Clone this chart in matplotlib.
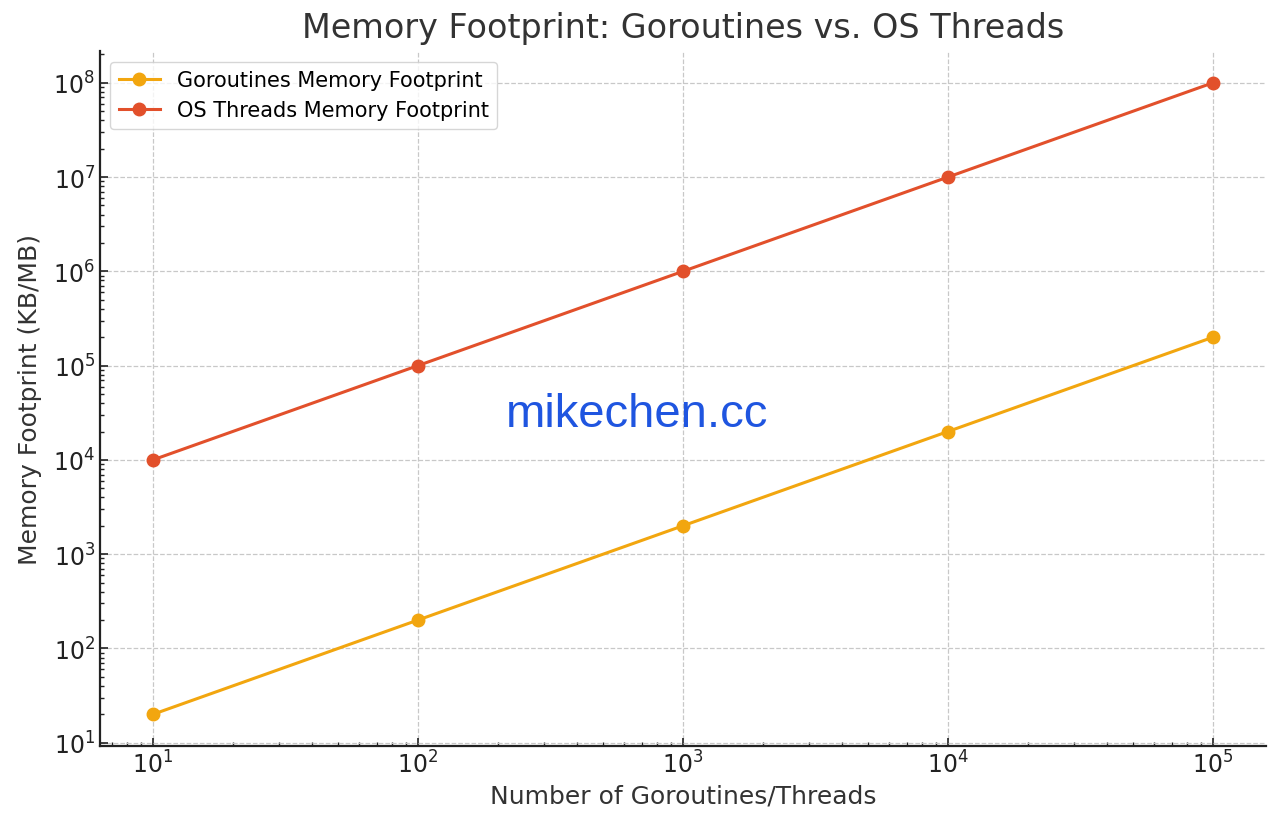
import matplotlib.pyplot as plt
from matplotlib.ticker import NullFormatter

counts = [10, 100, 1000, 10000, 100000]
goroutine_mem = [20, 200, 2000, 20000, 200000]
thread_mem = [1e4, 1e5, 1e6, 1e7, 1e8]

fig, ax = plt.subplots(figsize=(12.8, 8.29), dpi=100)

ax.plot(counts, goroutine_mem, marker='o', color='#f2a60f', linewidth=2.2,
        markersize=9, label='Goroutines Memory Footprint')
ax.plot(counts, thread_mem, marker='o', color='#e2502b', linewidth=2.2,
        markersize=9, label='OS Threads Memory Footprint')

ax.set_xscale('log')
ax.set_yscale('log')
ax.xaxis.set_minor_formatter(NullFormatter())
ax.yaxis.set_minor_formatter(NullFormatter())

ax.set_title('Memory Footprint: Goroutines vs. OS Threads', fontsize=24, color='#333333', pad=10)
ax.set_xlabel('Number of Goroutines/Threads', fontsize=18, color='#333333')
ax.set_ylabel('Memory Footprint (KB/MB)', fontsize=18, color='#333333', labelpad=8)

ax.grid(True, which='major', linestyle='--', color='#c8c8c8', linewidth=0.9)
ax.tick_params(which='both', direction='in', labelsize=17, colors='#222222')
ax.tick_params(which='major', length=6, width=1.2)
ax.tick_params(which='minor', length=3, width=1)

for side in ['top', 'right']:
    ax.spines[side].set_visible(False)
for side in ['left', 'bottom']:
    ax.spines[side].set_linewidth(1.6)
    ax.spines[side].set_color('#222222')

ax.legend(loc='upper left', fontsize=15, frameon=True, framealpha=0.8, edgecolor='#cccccc')

ax.text(0.461, 0.478, 'mikechen.cc', transform=ax.transAxes, fontsize=34,
        color='#1f55e0', ha='center', va='center', family='Liberation Sans')

fig.subplots_adjust(left=0.078, right=0.989, top=0.937, bottom=0.099)
fig.savefig('out.png', dpi=100)
